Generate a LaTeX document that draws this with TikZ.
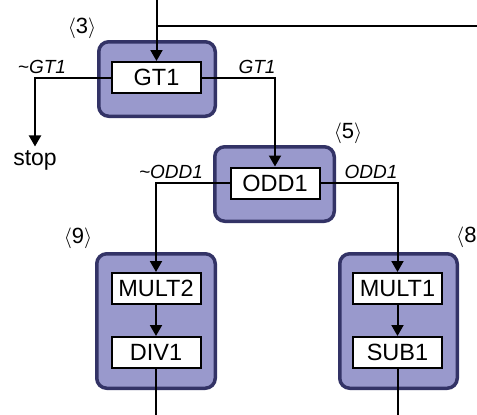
\documentclass[tikz,border=0pt]{standalone}
\usepackage{fontspec}
\setmainfont{Liberation Sans}
\usetikzlibrary{arrows.meta}
\definecolor{boxfill}{RGB}{153,153,204}
\definecolor{boxline}{RGB}{51,51,102}
\begin{document}
\begin{tikzpicture}[x=1pt,y=1pt,
  outerbox/.style={draw=boxline, fill=boxfill, line width=3.5pt, rounded corners=10pt, inner sep=0pt},
  unit/.style={draw=black, fill=white, line width=2pt, minimum width=89pt, minimum height=31pt, inner sep=0pt, font=\fontsize{23.5}{27}\selectfont},
  lab/.style={inner sep=0pt, font=\fontsize{22}{26}\selectfont},
  elab/.style={inner sep=0pt, font=\fontsize{19}{22}\selectfont\itshape},
  conn/.style={line width=2pt},
  arr/.style={conn, -{Triangle[width=12pt,length=11pt]}}]
\useasboundingbox (0,0) rectangle (477,-415);
\clip (0,0) rectangle (477,-415);
% outer blocks
\node[outerbox, minimum width=116.5pt, minimum height=74.5pt] (b3) at (157,-79) {};
\node[outerbox, minimum width=119.5pt, minimum height=74.5pt] (b5) at (274.5,-184) {};
\node[outerbox, minimum width=118.5pt, minimum height=134.5pt] (b9) at (156,-321) {};
\node[outerbox, minimum width=117.5pt, minimum height=134.5pt] (b8) at (398.5,-321) {};
% units
\node[unit] (gt1) at (156.5,-77.5) {GT1};
\node[unit] (odd1) at (275,-183) {ODD1};
\node[unit] (mult2) at (156,-288.5) {MULT2};
\node[unit] (div1) at (156,-352.5) {DIV1};
\node[unit] (mult1) at (397.5,-288.5) {MULT1};
\node[unit] (sub1) at (397.5,-352.5) {SUB1};
% block numbers
\node[lab] (n3) at (82,-28) {$\langle$3$\rangle$};
\node[lab] (n5) at (348,-133) {$\langle$5$\rangle$};
\node[lab] (n9) at (78,-238) {$\langle$9$\rangle$};
\node[lab, anchor=west] (n8) at (456,-237) {$\langle$8$\rangle$};
\node[lab, font=\fontsize{23}{27}\selectfont] (stop) at (35,-160.5) {stop};
% coordinates
\coordinate (top) at (156.5,10);
\coordinate (jn) at (156.5,-26);
\coordinate (east) at (485,-26);
\coordinate (bl) at (156,-420);
\coordinate (br) at (397.5,-420);
% connectors
\draw[arr] (top) -- (gt1.north);
\draw[conn] (jn) -- (east);
\draw[arr] (gt1.west) -| ([yshift=4pt]stop.north);
\draw[arr] (gt1.east) -| (odd1.north);
\draw[arr] (odd1.west) -| (mult2.north);
\draw[arr] (odd1.east) -| (mult1.north);
\draw[arr] (mult2) -- (div1);
\draw[arr] (mult1) -- (sub1);
\draw[conn] (div1.south) -- (bl);
\draw[conn] (sub1.south) -- (br);
% edge labels
\node[elab] (lngt) at (42,-67) {\char"7E GT1};
\node[elab] (lgt) at (257,-67) {GT1};
\node[elab] (lnodd) at (171,-172) {\char"7E ODD1};
\node[elab] (lodd) at (371,-172) {ODD1};
\end{tikzpicture}
\end{document}
